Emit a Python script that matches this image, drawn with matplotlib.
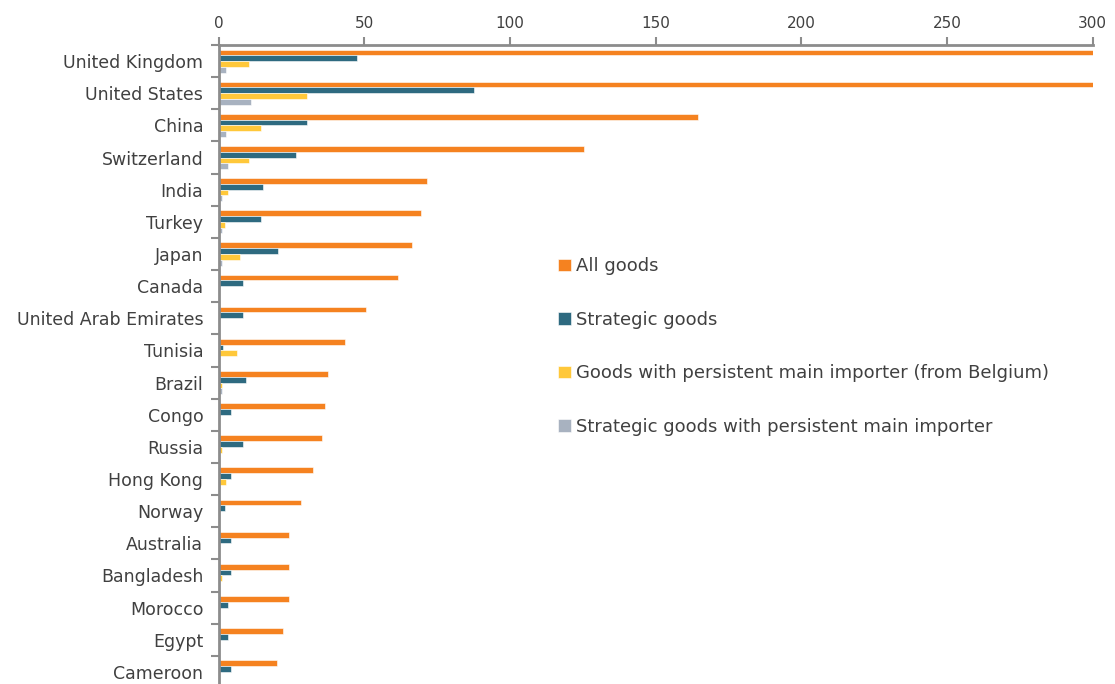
import matplotlib
matplotlib.use('Agg')
import matplotlib.pyplot as plt
import numpy as np

countries = ['United Kingdom', 'United States', 'China', 'Switzerland', 'India',
             'Turkey', 'Japan', 'Canada', 'United Arab Emirates', 'Tunisia',
             'Brazil', 'Congo', 'Russia', 'Hong Kong', 'Norway', 'Australia',
             'Bangladesh', 'Morocco', 'Egypt', 'Cameroon']

all_goods = [310, 310, 164.5, 125.5, 71.5, 69.5, 66.5, 61.5, 50.5, 43.5,
             37.5, 36.5, 35.5, 32.5, 28.2, 24.2, 24.2, 24.2, 22.2, 20.2]
strategic = [47.5, 87.5, 30.5, 26.5, 15.4, 14.4, 20.4, 8.4, 8.4, 1.4,
             9.4, 4.4, 8.4, 4.4, 2.2, 4.2, 4.2, 3.1, 3.1, 4.2]
persistent = [10.3, 30.3, 14.4, 10.3, 3.2, 2.3, 7.2, 0, 0, 6.4,
              1.3, 0, 1.3, 2.4, 0, 0, 1.0, 0, 0, 0]
strat_persistent = [2.4, 11.2, 2.4, 3.2, 1.3, 1.3, 1.3, 0, 0, 0,
                    1.3, 0, 0, 0, 0, 0, 0, 0, 0, 0]

series = [
    ('All goods', all_goods, '#F58220'),
    ('Strategic goods', strategic, '#2E6A80'),
    ('Goods with persistent main importer (from Belgium)', persistent, '#FFC83A'),
    ('Strategic goods with persistent main importer', strat_persistent, '#A8B2C0'),
]

fig = plt.figure(figsize=(11.15, 6.84), dpi=100)
ax = fig.add_axes([218.6 / 1115, -4 / 684, 874 / 1115, 643 / 684])

y = np.arange(len(countries))
h = 0.18
for i, (name, vals, col) in enumerate(series):
    ax.barh(y - 0.27 + i * h, vals, height=h, color=col, label=name,
            edgecolor='white', linewidth=0.4)

ax.set_xlim(0, 300)
ax.set_ylim(len(countries) - 0.5, -0.5)
ax.xaxis.tick_top()
ax.set_xticks(range(0, 301, 50))
ax.set_yticks(y)
ax.set_yticklabels(countries)
ax.set_yticks(np.arange(-0.5, len(countries), 1), minor=True)
ax.tick_params(axis='y', which='major', length=0, pad=11, labelsize=12.5, labelcolor='#404040')
ax.tick_params(axis='y', which='minor', length=6, width=1.5, color='#8c8c8c', direction='out')
ax.tick_params(axis='x', length=6, width=1.5, color='#8c8c8c', labelsize=11,
               labelcolor='#404040', pad=4)

for s in ['right', 'bottom']:
    ax.spines[s].set_visible(False)
for s in ['left', 'top']:
    ax.spines[s].set_color('#8c8c8c')
    ax.spines[s].set_linewidth(2)

leg = ax.legend(loc='upper left', bbox_to_anchor=(0.37, 0.695), frameon=False,
                fontsize=13, labelspacing=1.96, handlelength=0.7, handleheight=0.7,
                handletextpad=0.3)
for t in leg.get_texts():
    t.set_color('#404040')

fig.savefig('out.png', dpi=100)
